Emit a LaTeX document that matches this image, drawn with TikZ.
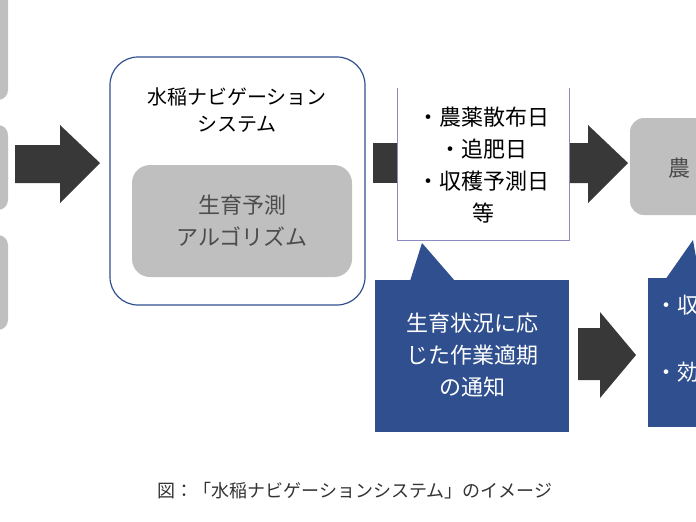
\documentclass[tikz,border=0pt]{standalone}
\usepackage{fontspec}
\setmainfont{Noto Sans CJK JP}
\begin{document}
\begin{tikzpicture}[x=1pt,y=-1pt,
  txt/.style={font=\fontsize{21}{26}\selectfont,align=center,inner sep=0pt}]
\useasboundingbox (0,0) rectangle (696,522);
\clip (0,0) rectangle (696,522);
\definecolor{nv}{HTML}{2F4F8F}
\definecolor{gb}{HTML}{BFBFBF}
% left gray boxes
\fill[gb,rounded corners=10pt] (-30,-20) rectangle (8,100);
\fill[gb,rounded corners=10pt] (-30,125) rectangle (8,210);
\fill[gb,rounded corners=10pt] (-30,235) rectangle (8,330);
% arrow 1
\fill[black!78] (15,145) -- (60,145) -- (60,125) -- (100,163) -- (60,203) -- (60,183) -- (15,183) -- cycle;
% system box
\node[draw=nv,line width=1.2pt,rounded corners=28pt,minimum width=255pt,minimum height=248pt] (sys) at (237.5,181) {};
\node[txt,font=\fontsize{20}{27}\selectfont] (syst) at (237,110) {水稲ナビゲーション\\システム};
\node[fill=gb,rounded corners=18pt,minimum width=220pt,minimum height=112pt,txt,text=black!70,font=\fontsize{22}{32}\selectfont] (alg) at (242,221) {生育予測\\アルゴリズム};
% arrow 2 shaft
\fill[black!78] (373,143) rectangle (397,183);
% white list box
\draw[blue!30!gray!70] (397,88) -- (397,240) -- (569,240) -- (569,88);
\node[txt,font=\fontsize{22}{32}\selectfont] (list) at (483,165) {・農薬散布日\\・追肥日\\・収穫予測日\\等};
% arrow 2 head
\fill[black!78] (570,143) -- (588,143) -- (588,125) -- (628,163) -- (588,203) -- (588,183) -- (570,183) -- cycle;
% right gray box
\fill[gb,rounded corners=14pt] (630,118) rectangle (720,215);
\node[txt,text=black!70,font=\fontsize{22}{28}\selectfont,anchor=west] (nou) at (668,168) {農};
% navy callout
\fill[nv] (375,280) rectangle (569,432);
\fill[nv] (422,243) -- (410,281) -- (455,281) -- cycle;
\node[txt,text=white,font=\fontsize{22}{32}\selectfont] (notice) at (472,355) {生育状況に応\\じた作業適期\\の通知};
% arrow 3
\fill[black!78] (578,328) -- (600,328) -- (600,312) -- (636,355) -- (600,398) -- (600,380) -- (578,380) -- cycle;
% right navy callout
\fill[nv] (648,278) rectangle (720,427);
\fill[nv] (693,240) -- (665,280) -- (700,280) -- cycle;
\node[txt,text=white,anchor=west,font=\fontsize{22}{28}\selectfont] (r1) at (655,305) {・収};
\node[txt,text=white,anchor=west,font=\fontsize{22}{28}\selectfont] (r2) at (655,372) {・効};
% caption
\node[txt,font=\fontsize{18}{22}\selectfont,text=black!80] (cap) at (355,491) {図：「水稲ナビゲーションシステム」のイメージ};
\end{tikzpicture}
\end{document}
